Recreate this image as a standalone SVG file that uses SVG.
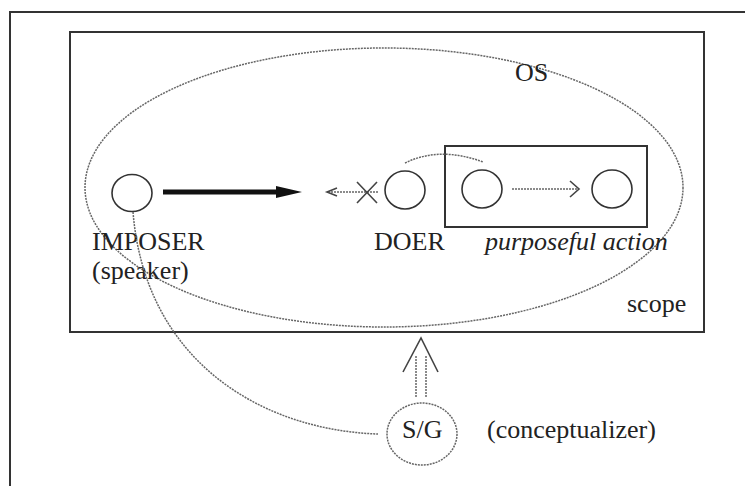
<svg xmlns="http://www.w3.org/2000/svg" width="745" height="486" viewBox="0 0 745 486">
<style>
.t{font-family:"Liberation Serif","Times New Roman",serif;font-size:26px;fill:#222}
.it{font-style:italic}
.frame{fill:none;stroke:#333;stroke-width:2}
.node{fill:none;stroke:#333;stroke-width:1.6}
.dot{fill:none;stroke:#666;stroke-width:1.5;stroke-dasharray:2 1}
.solid{fill:none;stroke:#444;stroke-width:1.6}
</style>
<rect width="745" height="486" fill="#fff"/>
<path class="frame" d="M10,486 V12 H745"/>
<g id="scope">
<rect class="frame" x="70" y="32" width="634" height="300"/>
<text class="t" x="627" y="312">scope</text>
</g>
<g id="os">
<ellipse class="dot" cx="384" cy="187.5" rx="299" ry="139.5"/>
<text class="t" x="515" y="81">OS</text>
</g>
<g id="imposer">
<ellipse class="node" cx="132" cy="193" rx="20" ry="18.5"/>
<text class="t" x="92" y="250">IMPOSER</text>
<text class="t" x="92" y="279">(speaker)</text>
</g>
<g id="doer">
<ellipse class="node" cx="405" cy="190" rx="20" ry="19"/>
<text class="t" x="374" y="250">DOER</text>
</g>
<g id="purposeful-action">
<rect class="frame" x="445" y="146" width="202" height="81"/>
<ellipse class="node" cx="482" cy="189" rx="20" ry="19"/>
<ellipse class="node" cx="612" cy="189" rx="20" ry="19"/>
<text class="t it" x="485" y="250">purposeful action</text>
</g>
<g id="sg">
<ellipse class="dot" cx="422" cy="434" rx="35" ry="31"/>
<text class="t" x="402" y="438">S/G</text>
<text class="t" x="487" y="438">(conceptualizer)</text>
</g>
<g id="connectors">
<path d="M163,189.5 H276 V186 L302,192 L276,198 V194.5 H163 Z" fill="#111"/>
<path class="dot" d="M378,192 H329"/>
<path class="solid" d="M337,188 L327,192 L337,196"/>
<path class="solid" d="M357,182 L377,203 M377,182 L357,203"/>
<path class="dot" d="M405,163 Q440,146 483,162"/>
<path class="dot" d="M512,189 H578"/>
<path class="solid" d="M570,181 L579,189 L570,197"/>
<path class="dot" d="M416,397 V356 M426,397 V356"/>
<path class="solid" d="M403,372 L421,338 L438,372"/>
<path class="dot" d="M133,212 C145,360 260,430 378,434"/>
</g>
</svg>
